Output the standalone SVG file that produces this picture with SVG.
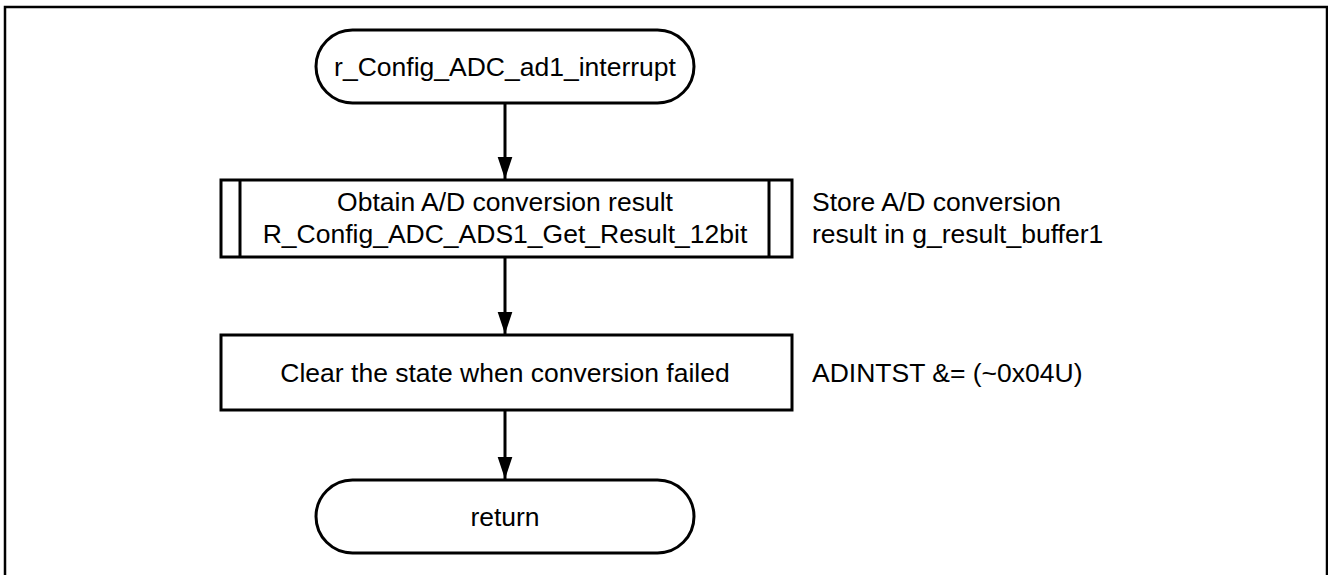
<svg xmlns="http://www.w3.org/2000/svg" width="1328" height="575" viewBox="0 0 1328 575">
<style>
.frame{fill:#fff;stroke:#000;stroke-width:2.5}
.shape{fill:#fff;stroke:#000;stroke-width:3}
.conn{fill:none;stroke:#000;stroke-width:3}
text{font-family:"Liberation Sans",Arial,sans-serif;font-size:26.5px;fill:#000}
.c{text-anchor:middle}
</style>
<defs>
<marker id="arr" markerUnits="userSpaceOnUse" markerWidth="22" markerHeight="32" refX="30" refY="10" orient="auto" viewBox="0 0 30 20">
<path d="M0,0 L30,10 L0,20 Z" fill="#000"/>
</marker>
</defs>
<rect class="frame" x="5" y="7" width="1322" height="575"/>
<g id="connectors">
<line class="conn" x1="505" y1="103" x2="505" y2="179" marker-end="url(#arr)"/>
<line class="conn" x1="505" y1="257" x2="505" y2="334" marker-end="url(#arr)"/>
<line class="conn" x1="505" y1="410" x2="505" y2="479" marker-end="url(#arr)"/>
</g>
<g id="start">
<rect class="shape" x="316" y="30" width="378" height="73" rx="36.5"/>
<text class="c" x="505" y="76">r_Config_ADC_ad1_interrupt</text>
</g>
<g id="get_result">
<rect class="shape" x="221" y="180" width="571" height="77"/>
<line class="shape" x1="240" y1="180" x2="240" y2="257"/>
<line class="shape" x1="769" y1="180" x2="769" y2="257"/>
<text class="c" x="505" y="211">Obtain A/D conversion result</text>
<text class="c" x="505" y="243">R_Config_ADC_ADS1_Get_Result_12bit</text>
<text x="812" y="211">Store A/D conversion</text>
<text x="812" y="243">result in g_result_buffer1</text>
</g>
<g id="clear_state">
<rect class="shape" x="221" y="335" width="571" height="75"/>
<text class="c" x="505" y="382">Clear the state when conversion failed</text>
<text x="812" y="382">ADINTST &amp;= (~0x04U)</text>
</g>
<g id="return">
<rect class="shape" x="316" y="480" width="378" height="73" rx="36.5"/>
<text class="c" x="505" y="526">return</text>
</g>
</svg>
